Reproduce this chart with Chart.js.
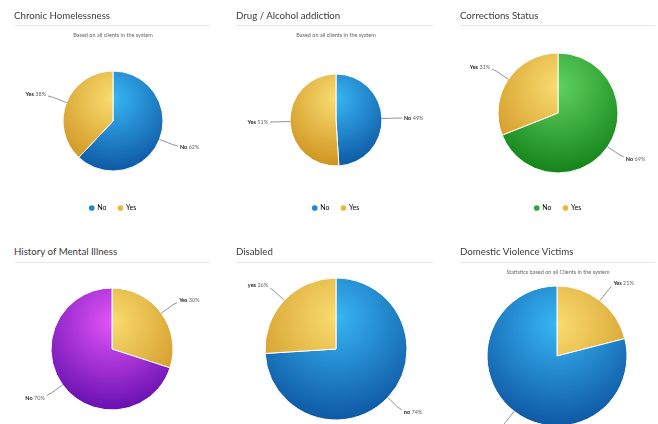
<!DOCTYPE html>
<html>
<head>
<meta charset="utf-8">
<script src="https://cdn.jsdelivr.net/npm/chart.js@4/dist/chart.umd.min.js"></script>
<style>
  html, body { margin: 0; padding: 0; background: #fff; }
  body { width: 658px; height: 424px; overflow: hidden; position: relative; font-family: Lato, "Open Sans", sans-serif; }
  .title { position: absolute; font-size: 9.7px; color: #3a3a3a; white-space: nowrap; z-index: 2; }
  .rule { position: absolute; height: 1px; background: #e6e6e6; z-index: 2; }
  .sub { position: absolute; font-size: 5.5px; color: #666; white-space: nowrap; text-align: center; z-index: 2; }
  canvas { position: absolute; z-index: 1; }
</style>
</head>
<body>
<script>
// titles / subtitles
const titles = ['Chronic Homelessness', 'Drug / Alcohol addiction', 'Corrections Status',
                'History of Mental Illness', 'Disabled', 'Domestic Violence Victims'];
const subtitles = ['Based on all clients in the system', 'Based on all clients in the system', '',
                   '', '', 'Statistics based on all Clients in the system'];

// slice data (percent)
const homelessLabels = ['No', 'Yes'];
const homelessValues = [62, 38];
const drugLabels = ['No', 'Yes'];
const drugValues = [49, 51];
const correctionsLabels = ['No', 'Yes'];
const correctionsValues = [69, 31];
const mentalLabels = ['Yes', 'No'];
const mentalValues = [30, 70];
const disabledLabels = ['no', 'yes'];
const disabledValues = [74, 26];
const violenceLabels = ['Yes', 'No'];
const violenceValues = [21, 79];

// gradient colours [light, dark, legend dot]
const BLUE = ['#38b6f4', '#0e58a4', '#1f86d6'];
const YELLOW = ['#f9dc70', '#cf9420', '#e8b838'];
const GREEN = ['#60d260', '#14841a', '#2fa62f'];
const PURPLE = ['#e254f7', '#6810b0', '#a830d8'];

// panel layout
const panels = [
  { labels: homelessLabels, values: homelessValues, colors: [BLUE, YELLOW], tx: 14, ty: 9, rule: [15, 25, 195], subX: 113, subY: 32,
    box: [0, 20, 222, 210], pad: { left: 4, right: 0, top: 29.5, bottom: 8.5 }, r: 50, legend: true },
  { labels: drugLabels, values: drugValues, colors: [BLUE, YELLOW], tx: 236, ty: 9, rule: [236, 25, 197], subX: 336, subY: 32,
    box: [222, 20, 222, 210], pad: { left: 6, right: 0, top: 27.5, bottom: 8.5 }, r: 46, legend: true },
  { labels: correctionsLabels, values: correctionsValues, colors: [GREEN, YELLOW], tx: 460, ty: 9, rule: [460, 25, 195], subX: 558, subY: 32,
    box: [444, 20, 214, 210], pad: { left: 14, right: 0, top: 13.5, bottom: 8.5 }, r: 60, legend: true },
  { labels: mentalLabels, values: mentalValues, colors: [YELLOW, PURPLE], tx: 14, ty: 245, rule: [15, 262, 195], subX: 112, subY: 269,
    box: [0, 262, 222, 190], pad: { left: 2, right: 0, top: 0, bottom: 16 }, r: 61, legend: false },
  { labels: disabledLabels, values: disabledValues, colors: [BLUE, YELLOW], tx: 236, ty: 245, rule: [236, 262, 197], subX: 336, subY: 269,
    box: [222, 262, 222, 190], pad: { left: 6, right: 0, top: 0, bottom: 16 }, r: 71, legend: false },
  { labels: violenceLabels, values: violenceValues, colors: [YELLOW, BLUE], tx: 460, ty: 245, rule: [460, 262, 195], subX: 558, subY: 269,
    box: [444, 262, 214, 190], pad: { left: 12, right: 0, top: 0, bottom: 2 }, r: 70, legend: false }
];

// outside labels with connector lines
const outerLabels = {
  id: 'outerLabels',
  afterDatasetsDraw(chart) {
    const ctx = chart.ctx;
    const meta = chart.getDatasetMeta(0);
    const data = chart.data.datasets[0].data;
    meta.data.forEach((arc, i) => {
      const p = arc.getProps(['x', 'y', 'startAngle', 'endAngle', 'outerRadius'], true);
      const mid = (p.startAngle + p.endAngle) / 2;
      const cos = Math.cos(mid), sin = Math.sin(mid);
      const right = cos >= 0;
      const x0 = p.x + cos * p.outerRadius, y0 = p.y + sin * p.outerRadius;
      const x1 = p.x + cos * (p.outerRadius + 14), y1 = p.y + sin * (p.outerRadius + 14);
      const ax = p.x + cos * (p.outerRadius + 22), ay = p.y + sin * (p.outerRadius + 22);
      const ex = ax + (right ? -2 : 2);
      ctx.save();
      ctx.strokeStyle = '#777';
      ctx.lineWidth = 0.8;
      ctx.beginPath();
      ctx.moveTo(x0, y0);
      ctx.lineTo(x1, y1);
      ctx.lineTo(ex, y1 + (ay - y1) * 0.5);
      ctx.stroke();
      const name = chart.data.labels[i];
      const pct = ' ' + data[i] + '%';
      ctx.textBaseline = 'middle';
      ctx.font = 'bold 5.5px Lato, sans-serif';
      const wName = ctx.measureText(name).width;
      ctx.font = '5.5px Lato, sans-serif';
      const wPct = ctx.measureText(pct).width;
      const tx = right ? ax : ax - wName - wPct;
      ctx.textAlign = 'left';
      ctx.fillStyle = '#222';
      ctx.font = 'bold 5.5px Lato, sans-serif';
      ctx.fillText(name, tx, ay);
      ctx.fillStyle = '#666';
      ctx.font = '5.5px Lato, sans-serif';
      ctx.fillText(pct, tx + wName, ay);
      ctx.restore();
    });
  }
};

// radial gradient, lighter toward the top of the pie
function sliceFill(colors, r) {
  return (context) => {
    const pair = colors[context.dataIndex];
    const chart = context.chart;
    const area = chart.chartArea;
    if (!area || !pair) return pair ? pair[2] : '#ccc';
    const cx = (area.left + area.right) / 2;
    const cy = (area.top + area.bottom) / 2;
    const g = chart.ctx.createRadialGradient(cx, cy - r * 0.45, 0, cx, cy - r * 0.45, r * 1.45);
    g.addColorStop(0, pair[0]);
    g.addColorStop(1, pair[1]);
    return g;
  };
}

panels.forEach((pn, k) => {
  const t = document.createElement('div');
  t.className = 'title';
  t.style.left = pn.tx + 'px';
  t.style.top = pn.ty + 'px';
  t.textContent = titles[k];
  document.body.appendChild(t);

  const rule = document.createElement('div');
  rule.className = 'rule';
  rule.style.left = pn.rule[0] + 'px';
  rule.style.top = pn.rule[1] + 'px';
  rule.style.width = pn.rule[2] + 'px';
  document.body.appendChild(rule);

  if (subtitles[k]) {
    const s = document.createElement('div');
    s.className = 'sub';
    s.style.left = (pn.subX - 100) + 'px';
    s.style.width = '200px';
    s.style.top = pn.subY + 'px';
    s.textContent = subtitles[k];
    document.body.appendChild(s);
  }

  const cv = document.createElement('canvas');
  cv.style.left = pn.box[0] + 'px';
  cv.style.top = pn.box[1] + 'px';
  cv.style.width = pn.box[2] + 'px';
  cv.style.height = pn.box[3] + 'px';
  cv.width = pn.box[2];
  cv.height = pn.box[3];
  document.body.appendChild(cv);

  new Chart(cv, {
    type: 'pie',
    data: {
      labels: pn.labels,
      datasets: [{
        data: pn.values,
        backgroundColor: sliceFill(pn.colors, pn.r),
        borderColor: '#ffffff',
        borderWidth: 1,
        radius: pn.r
      }]
    },
    options: {
      responsive: false,
      animation: false,
      layout: { padding: pn.pad },
      plugins: {
        tooltip: { enabled: false },
        legend: {
          display: pn.legend,
          position: 'bottom',
          labels: {
            usePointStyle: true,
            pointStyle: 'circle',
            boxWidth: 4,
            boxHeight: 4,
            padding: 12,
            color: '#666',
            font: { size: 7, family: 'Lato' },
            generateLabels(chart) {
              return chart.data.labels.map((l, i) => ({
                text: l,
                fillStyle: pn.colors[i][2],
                strokeStyle: pn.colors[i][2],
                lineWidth: 0,
                pointStyle: 'circle',
                index: i
              }));
            }
          }
        }
      }
    },
    plugins: [outerLabels]
  });
});
</script>
</body>
</html>
